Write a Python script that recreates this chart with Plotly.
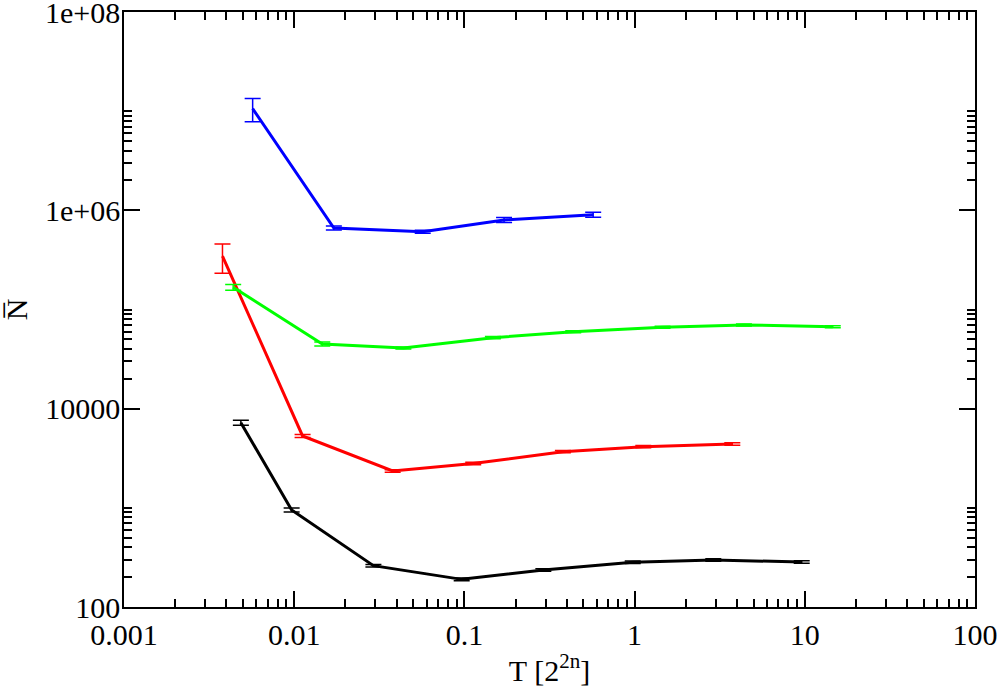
import plotly.graph_objects as go

# values (T in units of 2^(2n), N-bar)
black_T = [0.00486, 0.00966, 0.0292, 0.0964, 0.291, 0.975, 2.90, 9.59]
black_N = [7220, 951, 261, 190, 236, 283, 298, 284]
black_err = [430, 45, 8, 6, 7, 8, 8, 8]

red_T = [0.00379, 0.0112, 0.0379, 0.1127, 0.379, 1.125, 3.75]
red_N = [3.45e5, 5305, 2354, 2800, 3683, 4140, 4404]
red_err = [1.13e5, 180, 70, 80, 100, 110, 130]

green_T = [0.00438, 0.01462, 0.0438, 0.147, 0.436, 1.46, 4.39, 14.6]
green_N = [1.675e5, 4.49e4, 4.09e4, 5.20e4, 5.97e4, 6.62e4, 6.98e4, 6.71e4]
green_err = [1.1e4, 2000, 1000, 1300, 1500, 1600, 1700, 1600]

blue_T = [0.0057, 0.0171, 0.0569, 0.171, 0.571]
blue_N = [1.06e7, 6.64e5, 6.09e5, 8.0e5, 9.04e5]
blue_err = [2.8e6, 3e4, 2e4, 4.5e4, 5e4]

x_ticks = [0.001, 0.01, 0.1, 1, 10, 100]
x_labels = ["0.001", "0.01", "0.1", "1", "10", "100"]
y_ticks = [100, 1e4, 1e6, 1e8]
y_labels = ["100", "10000", "1e+06", "1e+08"]

series = [
    (black_T, black_N, black_err, "#000000"),
    (red_T, red_N, red_err, "#ff0000"),
    (green_T, green_N, green_err, "#00ff00"),
    (blue_T, blue_N, blue_err, "#0000ff"),
]

fig = go.Figure()
for t, n, e, col in series:
    fig.add_trace(go.Scatter(
        x=t, y=n, mode="lines",
        line=dict(color=col, width=3),
        error_y=dict(type="data", array=e, visible=True,
                     color=col, thickness=1.5, width=8),
        showlegend=False,
    ))

# minor ticks like xmgrace puts them
x_minor = [m * 10.0**e for e in range(-3, 2) for m in range(2, 10)]
y_minor = [m * 10.0**e for e in (2, 4, 6) for m in range(2, 11)]

font = "Liberation Serif"

fig.update_xaxes(
    type="log", range=[-3, 2], automargin=False,
    tickmode="array", tickvals=x_ticks, ticktext=x_labels,
    ticks="inside", ticklen=16, tickwidth=1.5, tickcolor="black",
    minor=dict(tickmode="array", tickvals=x_minor, ticks="inside",
               ticklen=8, tickwidth=1.5, tickcolor="black"),
    showline=True, linecolor="black", linewidth=1.5, mirror="allticks",
    showgrid=False, zeroline=False, ticklabeloverflow="allow",
    tickfont=dict(family=font, size=30, color="black"),
    title=dict(text="T [2<sup>2n</sup>]", font=dict(family=font, size=30, color="black"), standoff=10),
)
fig.update_yaxes(
    type="log", range=[2, 8], automargin=False,
    tickmode="array", tickvals=y_ticks, ticktext=y_labels,
    ticks="inside", ticklen=16, tickwidth=1.5, tickcolor="black",
    minor=dict(tickmode="array", tickvals=y_minor, ticks="inside",
               ticklen=8, tickwidth=1.5, tickcolor="black"),
    showline=True, linecolor="black", linewidth=1.5, mirror="allticks",
    showgrid=False, zeroline=False, ticklabeloverflow="allow",
    ticklabelstandoff=-4,
    tickfont=dict(family=font, size=30, color="black"),
    title=dict(text="N\u0305", font=dict(family=font, size=30, color="black"), standoff=14),
)

fig.update_layout(
    width=1002, height=693,
    margin=dict(l=124, r=27, t=12, b=86),
    plot_bgcolor="white", paper_bgcolor="white",
)

# page body has a default 8px margin; drop it so the figure sits at 0,0
fig.write_html("out.html", config={"displayModeBar": False},
               post_script="document.body.style.margin='0';")
